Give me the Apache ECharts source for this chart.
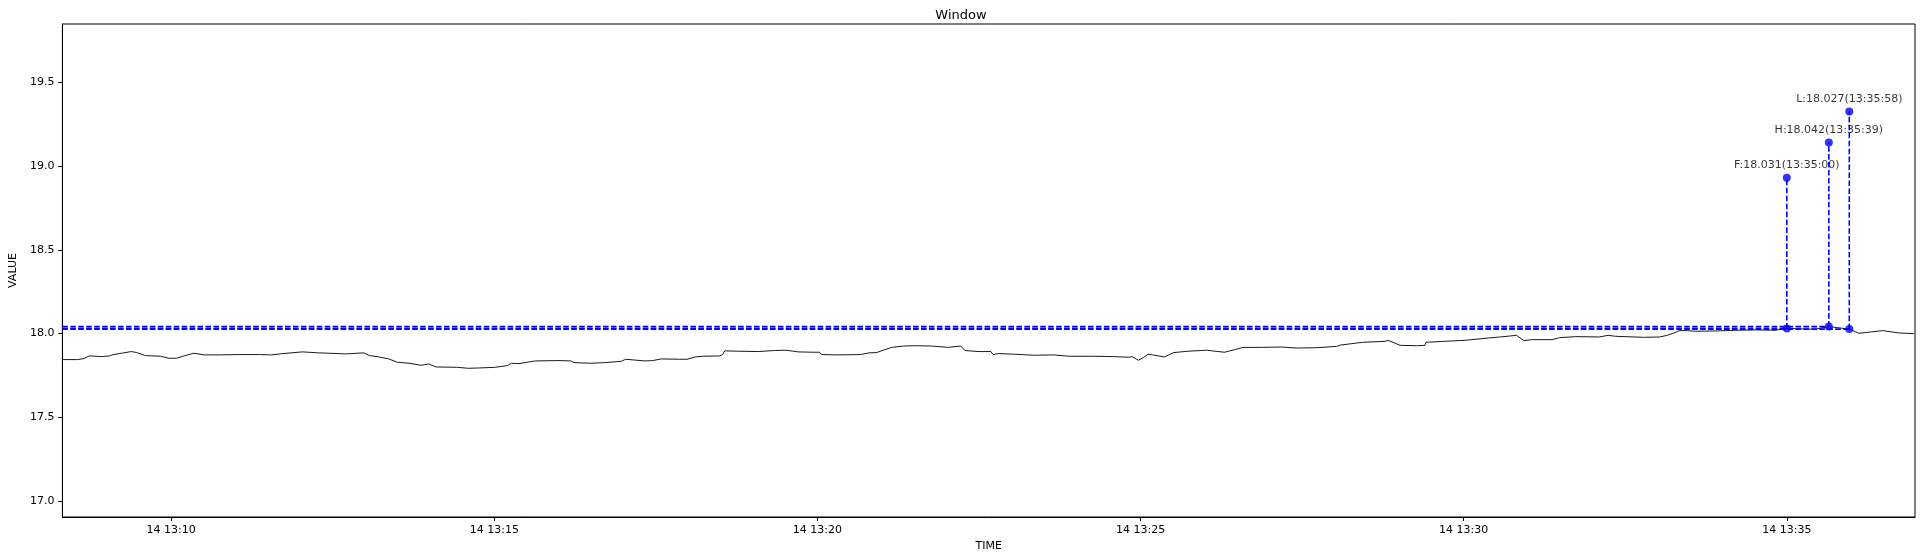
<!DOCTYPE html>
<html>
<head>
<meta charset="utf-8">
<script src="https://cdn.jsdelivr.net/npm/echarts@6/dist/echarts.min.js"></script>
<style>
html,body{margin:0;padding:0;background:#fff;}
#c{width:1922px;height:557px;}
</style>
</head>
<body>
<div id="c"></div>
<script>
// ---- data ----
const lineTimes = [
'13:08:19','13:08:33','13:08:39','13:08:44','13:08:55','13:09:03','13:09:06','13:09:14','13:09:23','13:09:28',
'13:09:36','13:09:50','13:09:58','13:10:05','13:10:12','13:10:21','13:10:31','13:10:45','13:11:03','13:11:22',
'13:11:33','13:11:44','13:12:02','13:12:17','13:12:35','13:12:42','13:12:59','13:13:04','13:13:11','13:13:22',
'13:13:30','13:13:41','13:13:52','13:13:59','13:14:06','13:14:25','13:14:36','13:14:46','13:15:01','13:15:12',
'13:15:16','13:15:23','13:15:38','13:16:00','13:16:11','13:16:14','13:16:29','13:16:43','13:16:58','13:17:02',
'13:17:09','13:17:20','13:17:27','13:17:35','13:17:52','13:17:59','13:18:07','13:18:14','13:18:29','13:18:32',
'13:18:34','13:18:47','13:19:05','13:19:20','13:19:31','13:19:42','13:19:56','13:20:02','13:20:04','13:20:18',
'13:20:40','13:20:48','13:20:55','13:21:02','13:21:09','13:21:20','13:21:31','13:21:46','13:22:01','13:22:13',
'13:22:17','13:22:30','13:22:41','13:22:43','13:22:48','13:23:03','13:23:21','13:23:39','13:23:54','13:24:16',
'13:24:34','13:24:49','13:24:52','13:24:58','13:25:03','13:25:07','13:25:11','13:25:22','13:25:31','13:25:44',
'13:26:02','13:26:09','13:26:18','13:26:28','13:26:35','13:26:53','13:27:11','13:27:25','13:27:44','13:28:02',
'13:28:06','13:28:26','13:28:47','13:28:50','13:29:01','13:29:16','13:29:24','13:29:25','13:29:42','13:30:01',
'13:30:23','13:30:34','13:30:49','13:30:56','13:31:03','13:31:22','13:31:29','13:31:44','13:32:06','13:32:14',
'13:32:21','13:32:47','13:33:02','13:33:09','13:33:17','13:33:20','13:33:28','13:33:35','13:33:54','13:34:12',
'13:34:31','13:34:49','13:35:00','13:35:26','13:35:39','13:35:58','13:36:07','13:36:18','13:36:29','13:36:44',
'13:36:58'
];
const lineValues = [
17.845,17.845,17.851,17.867,17.863,17.867,17.875,17.883,17.893,17.887,
17.869,17.865,17.853,17.853,17.867,17.883,17.873,17.873,17.875,17.875,
17.873,17.881,17.891,17.885,17.881,17.879,17.885,17.869,17.863,17.849,
17.829,17.823,17.811,17.819,17.801,17.799,17.793,17.795,17.799,17.809,
17.823,17.821,17.837,17.839,17.837,17.827,17.823,17.827,17.835,17.847,
17.843,17.837,17.839,17.849,17.847,17.847,17.861,17.865,17.867,17.875,
17.897,17.895,17.893,17.899,17.901,17.891,17.889,17.889,17.875,17.873,
17.875,17.885,17.887,17.903,17.918,17.926,17.928,17.926,17.918,17.926,
17.899,17.893,17.893,17.875,17.881,17.877,17.871,17.873,17.865,17.865,
17.863,17.859,17.863,17.841,17.859,17.877,17.873,17.861,17.887,17.895,
17.901,17.895,17.889,17.905,17.918,17.918,17.920,17.914,17.916,17.924,
17.932,17.948,17.954,17.960,17.930,17.928,17.930,17.948,17.954,17.960,
17.974,17.980,17.990,17.958,17.964,17.964,17.976,17.982,17.980,17.990,
17.984,17.978,17.980,17.990,18.008,18.018,18.018,18.014,18.016,18.020,
18.022,18.020,18.031,18.026,18.042,18.027,18.002,18.010,18.018,18.004,
18.000
];
const markNames = ['F','H','L'];
const markTimes = ['13:35:00','13:35:39','13:35:58'];
const markValues = [18.031, 18.042, 18.027];
const markTops = [18.931, 19.142, 19.327];
const xTickTimes = ['13:10','13:15','13:20','13:25','13:30','13:35'];
const yTicks = [17.0, 17.5, 18.0, 18.5, 19.0, 19.5];
const xRange = ['13:08:19','13:36:59'];
const yRange = [16.905, 19.849];
const dayLabel = '14';

// ---- helpers ----
function ts(s){
  const p = s.split(':').map(Number);
  return new Date(2024, 0, 14, p[0], p[1], p[2] || 0).getTime();
}
function pad(n){ return (n < 10 ? '0' : '') + n; }

const FONT = 'DejaVu Sans';
const BLUE = '#0000ff';
const DASH = [5.55, 2.4];

const series = [];
series.push({
  type: 'line',
  data: lineTimes.map((t, i) => [ts(t), lineValues[i]]),
  showSymbol: false,
  symbol: 'none',
  lineStyle: { color: '#000', width: 0.9 },
  z: 1,
  silent: true
});
markNames.forEach((n, i) => {
  const t = ts(markTimes[i]);
  series.push({
    type: 'line',
    data: [[ts(xRange[0]), markValues[i]], [t, markValues[i]]],
    symbol: 'none',
    lineStyle: { color: BLUE, width: 1.6, type: DASH },
    z: 2, silent: true
  });
  series.push({
    type: 'line',
    data: [[t, markValues[i]], [t, markTops[i]]],
    symbol: 'none',
    lineStyle: { color: BLUE, width: 1.6, type: DASH },
    z: 2, silent: true
  });
  series.push({
    type: 'scatter',
    data: [[t, markValues[i]]],
    symbol: 'circle', symbolSize: 8,
    itemStyle: { color: BLUE },
    z: 3, silent: true
  });
  series.push({
    type: 'scatter',
    data: [[t, markTops[i]]],
    symbol: 'circle', symbolSize: 8,
    itemStyle: { color: BLUE },
    label: {
      show: true, position: 'top', distance: 3,
      color: '#000', fontSize: 11, fontFamily: FONT,
      formatter: n + ':' + markValues[i].toFixed(3) + '(' + markTimes[i] + ')'
    },
    z: 3, silent: true
  });
});

const chart = echarts.init(document.getElementById('c'), null, { renderer: 'canvas' });
chart.setOption({
  animation: false,
  backgroundColor: '#fff',
  textStyle: { fontFamily: FONT },
  title: {
    text: 'Window', left: 'center', top: 4,
    textStyle: { fontSize: 13, fontWeight: 'normal', color: '#000', fontFamily: FONT }
  },
  grid: {
    left: 55, right: 7, top: 24, bottom: 40,
    show: true, borderColor: '#000', borderWidth: 1, backgroundColor: 'transparent'
  },
  xAxis: {
    type: 'value',
    min: ts(xRange[0]), max: ts(xRange[1]),
    name: 'TIME', nameLocation: 'middle', nameGap: 22,
    nameTextStyle: { fontSize: 11, color: '#000', fontFamily: FONT },
    axisLine: { show: true, lineStyle: { color: '#000', width: 1 } },
    axisTick: { show: true, inside: false, length: 4, lineStyle: { color: '#000' },
      customValues: xTickTimes.map(ts) },
    axisLabel: {
      show: true, margin: 8, fontSize: 11, color: '#000', fontFamily: FONT,
      customValues: xTickTimes.map(ts),
      formatter: function (v) {
        const d = new Date(v);
        return dayLabel + ' ' + pad(d.getHours()) + ':' + pad(d.getMinutes());
      }
    },
    splitLine: { show: false }
  },
  yAxis: {
    type: 'value',
    min: yRange[0], max: yRange[1],
    name: 'VALUE', nameLocation: 'middle', nameGap: 38,
    nameTextStyle: { fontSize: 11, color: '#000', fontFamily: FONT },
    axisLine: { show: true, lineStyle: { color: '#000', width: 1 } },
    axisTick: { show: true, inside: false, length: 4, lineStyle: { color: '#000' },
      customValues: yTicks },
    axisLabel: {
      show: true, margin: 8, fontSize: 11, color: '#000', fontFamily: FONT,
      customValues: yTicks,
      formatter: function (v) { return Number(v).toFixed(1); }
    },
    splitLine: { show: false }
  },
  series: series
});
</script>
</body>
</html>
